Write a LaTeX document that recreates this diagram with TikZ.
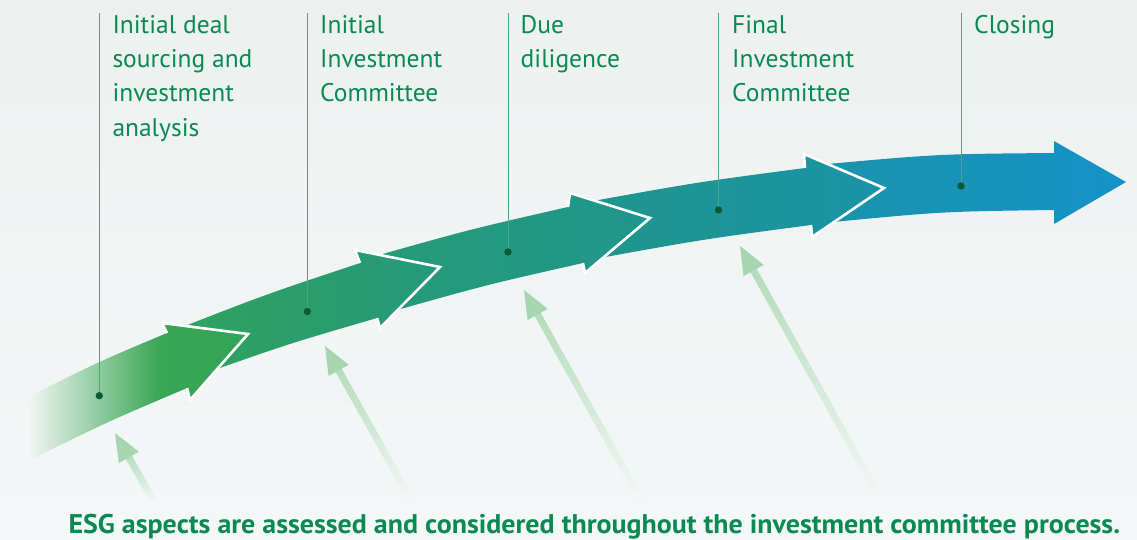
\documentclass[tikz,border=0pt]{standalone}
\usepackage{fontspec}
\setmainfont{PT Sans}
\usetikzlibrary{calc}
\definecolor{bgtop}{HTML}{ECF1F0}
\definecolor{bgbot}{HTML}{F4F7F7}
\definecolor{bgmid}{HTML}{F0F4F3}
\definecolor{gA}{HTML}{38A653}
\definecolor{gB}{HTML}{33A35A}
\definecolor{s2a}{HTML}{31A25C}
\definecolor{s2b}{HTML}{23997B}
\definecolor{s3a}{HTML}{269B75}
\definecolor{s3b}{HTML}{1E968E}
\definecolor{s4a}{HTML}{1F968B}
\definecolor{s4b}{HTML}{1A93A8}
\definecolor{s5a}{HTML}{1A93AB}
\definecolor{s5b}{HTML}{1592C8}
\definecolor{txtc}{HTML}{0A8A52}
\definecolor{leadc}{HTML}{4FA583}
\definecolor{dotc}{HTML}{0B5B36}
\definecolor{esgc}{HTML}{A7D5B0}
\definecolor{esgshaft}{HTML}{B3DBBA}
\pgfdeclarehorizontalshading{segonefade}{100bp}{color(0bp)=(bgmid); color(25bp)=(bgmid); color(54.8bp)=(gA); color(75bp)=(gB); color(100bp)=(gB)}
\begin{document}
\begin{tikzpicture}[x=1pt,y=-1pt,
  leader/.style={draw=leadc, line width=0.9pt},
  dotnode/.style={circle, fill=dotc, inner sep=0pt, minimum size=7.4pt},
  stage/.style={font=\fontsize{25.5}{34.3}\selectfont, text=txtc, align=left, anchor=base west, inner sep=0pt},
  headline/.style={draw=white, line width=2.6pt, line join=miter},
  esghead/.style={fill=esgc},
  esgshaftstyle/.style={top color=esgshaft, bottom color=bgbot}
  ]
\useasboundingbox (0,0) rectangle (1137,539);
\shade[top color=bgtop, bottom color=bgbot] (0,0) rectangle (1137,539);

% ESG arrows
\foreach \i/\sx/\sy/\tx/\ty in {1/153/500/115/433, 2/410/498/325/346, 3/640/498/524/290, 4/880/498/740/246}{
  \coordinate (S\i) at (\sx,\sy);
  \coordinate (T\i) at (\tx,\ty);
  \coordinate (B\i) at ($(T\i)!28pt!(S\i)$);
  \coordinate (C\i) at ($(T\i)!24pt!(S\i)$);
  \shade[esgshaftstyle] ($(C\i)!3.5pt!90:(T\i)$) -- ($(S\i)!3.5pt!90:(T\i)$) -- ($(S\i)!3.5pt!-90:(T\i)$) -- ($(C\i)!3.5pt!-90:(T\i)$) -- cycle;
  \fill[esghead] (T\i) -- ($(B\i)!11.5pt!90:(T\i)$) -- ($(B\i)!11.5pt!-90:(T\i)$) -- cycle;
}

% band segments, last first
\shade[left color=s5a, right color=s5b] (822,164.5) .. controls (938,154) .. (1054,153) -- (1054,141) -- (1126,182) -- (1054,224) -- (1054,210) .. controls (942,211.5) .. (830,222.3) -- cycle;

\shade[left color=s4a, right color=s4b] (588,201.9) .. controls (696.5,182.3) .. (805,168) -- (804,154) -- (884,188) -- (812,237) -- (811,225) .. controls (703.5,239.2) .. (596,258.7) -- cycle;
\draw[headline] (805,168) -- (804,154) -- (884,188) -- (812,237) -- (811,225);

\shade[left color=s3a, right color=s3b] (370,257.6) .. controls (469,229.6) .. (568,207) -- (570,193) -- (650,218) -- (585,273) -- (583,263) .. controls (486.5,284.8) .. (390,312) -- cycle;
\draw[headline] (568,207) -- (570,193) -- (650,218) -- (585,273) -- (583,263);

\shade[left color=s2a, right color=s2b] (172,331) .. controls (266,294.3) .. (360,263) -- (355,250) -- (440,267) -- (380,328) -- (377,318) .. controls (288.5,343.8) .. (200,375) -- cycle;
\draw[headline] (360,263) -- (355,250) -- (440,267) -- (380,328) -- (377,318);

\shade[shading=segonefade] (30,396) .. controls (98.5,361.8) .. (167,333) -- (162,323) -- (248,334) -- (190,400) -- (187,388) .. controls (108.5,421.3) .. (30,460) -- cycle;
\draw[headline] (167,333) -- (162,323) -- (248,334) -- (190,400) -- (187,388);

% leaders and dots
\foreach \i/\x/\y in {1/99.3/395.7, 2/307.3/311.5, 3/508/252, 4/718.5/210, 5/961/186}{
  \node[dotnode] (d\i) at (\x,\y) {};
  \coordinate (l\i) at (\x,13.3);
  \draw[leader] (l\i) -- (d\i);
}

% stage labels (anchored at the baseline of the last line)
\node[stage] (t1) at (112.3,136.2) {Initial deal\\sourcing and\\investment\\analysis};
\node[stage] (t2) at (320,101.9) {Initial\\Investment\\Committee};
\node[stage] (t3) at (520.5,67.6) {Due\\diligence};
\node[stage] (t4) at (732,101.9) {Final\\Investment\\Committee};
\node[stage] (t5) at (974,33.3) {Closing};

\node[font=\bfseries\fontsize{27}{30}\selectfont, text=txtc, anchor=base west, inner sep=0pt] (esg) at (68.3,533.3) {\scalebox{1.035}[1]{ESG aspects are assessed and considered throughout the investment committee process.}};
\end{tikzpicture}
\end{document}
